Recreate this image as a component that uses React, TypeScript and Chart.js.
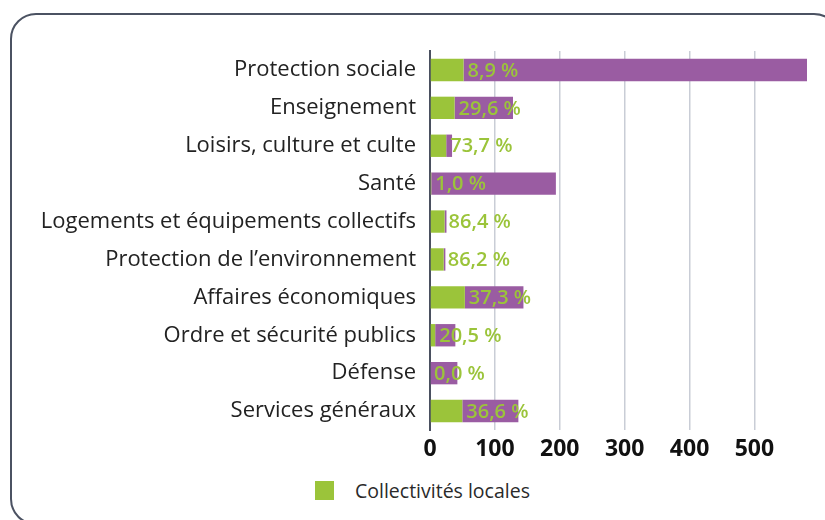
import React, { useEffect, useRef } from "react";
import { Chart, registerables } from "chart.js";

Chart.register(...registerables);

const categories = [
  "Protection sociale",
  "Enseignement",
  "Loisirs, culture et culte",
  "Santé",
  "Logements et équipements collectifs",
  "Protection de l’environnement",
  "Affaires économiques",
  "Ordre et sécurité publics",
  "Défense",
  "Services généraux",
];

// Part des collectivités locales (green)
const localValues = [51.7, 37.9, 25.0, 1.9, 22.5, 21.1, 53.7, 8.0, 0, 49.8];
// Remaining part (purple)
const otherValues = [529.3, 90.0, 9.0, 192.1, 2.9, 2.6, 90.3, 31.1, 42.2, 86.4];
const shareLabels = ["8,9 %", "29,6 %", "73,7 %", "1,0 %", "86,4 %", "86,2 %", "37,3 %", "20,5 %", "0,0 %", "36,6 %"];
const xTicks = [0, 100, 200, 300, 400, 500];
const xMax = 581;
const legendLabel = "Collectivités locales";

const GREEN = "#9bc43a";
const PURPLE = "#9a5ca2";
const FONT = "'Open Sans', 'Noto Sans', sans-serif";

export default function App() {
  const ref = useRef<HTMLCanvasElement | null>(null);

  useEffect(() => {
    if (!ref.current) return;
    const labelPlugin = {
      id: "shareLabels",
      afterDatasetsDraw(chart: any) {
        const { ctx, scales } = chart;
        const xs = scales.x;
        const ys = scales.y;
        ctx.save();
        ctx.font = `600 20px ${FONT}`;
        ctx.fillStyle = GREEN;
        ctx.textAlign = "left";
        ctx.textBaseline = "middle";
        shareLabels.forEach((t, i) => {
          const x = xs.getPixelForValue(localValues[i]) + 4;
          const y = ys.getPixelForValue(i) + 1;
          ctx.fillText(t, x, y);
        });
        ctx.restore();
      },
    };
    const chart = new Chart(ref.current, {
      type: "bar",
      data: {
        labels: categories,
        datasets: [
          {
            label: legendLabel,
            data: localValues,
            backgroundColor: GREEN,
            stack: "s",
            barPercentage: 0.59,
            categoryPercentage: 1,
          },
          {
            label: "Autres",
            data: otherValues,
            backgroundColor: PURPLE,
            stack: "s",
            barPercentage: 0.59,
            categoryPercentage: 1,
          },
        ],
      },
      options: {
        indexAxis: "y",
        responsive: false,
        animation: false,
        layout: { padding: { left: 0, right: 18, top: 51, bottom: 0 } },
        plugins: {
          legend: { display: false },
          tooltip: { enabled: false },
        },
        scales: {
          x: {
            type: "linear",
            stacked: true,
            min: 0,
            max: xMax,
            afterBuildTicks: (scale: any) => {
              scale.ticks = xTicks.map((v) => ({ value: v }));
            },
            afterFit: (scale: any) => {
              scale.height = 40;
            },
            grid: { color: "#c9cdd6", lineWidth: 1.5, drawTicks: false },
            border: { display: false },
            ticks: {
              padding: 6,
              color: "#111111",
              font: { family: FONT, size: 23, weight: "bold" },
            },
          },
          y: {
            stacked: true,
            afterFit: (scale: any) => {
              scale.width = 430;
            },
            grid: { display: false, drawTicks: false },
            border: { display: true, color: "#4a5060", width: 2 },
            ticks: {
              padding: 14,
              color: "#222222",
              font: { family: FONT, size: 22 },
            },
          },
        },
      },
      plugins: [labelPlugin],
    });
    return () => chart.destroy();
  }, []);

  return (
    <div
      style={{
        position: "absolute",
        left: 0,
        top: 0,
        width: 825,
        height: 520,
        overflow: "hidden",
        background: "#ffffff",
      }}
    >
      <div
        style={{
          position: "absolute",
          left: 10,
          top: 13,
          width: 826,
          height: 508,
          border: "2px solid #4b5262",
          borderRadius: 26,
        }}
      />
      <canvas
        ref={ref}
        width={825}
        height={470}
        style={{ position: "absolute", left: 0, top: 0, width: 825, height: 470 }}
      />
      <div
        style={{
          position: "absolute",
          left: 315,
          top: 477,
          height: 26,
          display: "flex",
          alignItems: "center",
          fontFamily: FONT,
          fontSize: 19.5,
          color: "#2a2a2a",
        }}
      >
        <span style={{ display: "inline-block", width: 19, height: 19, background: GREEN, marginRight: 21 }} />
        <span>{legendLabel}</span>
      </div>
    </div>
  );
}
